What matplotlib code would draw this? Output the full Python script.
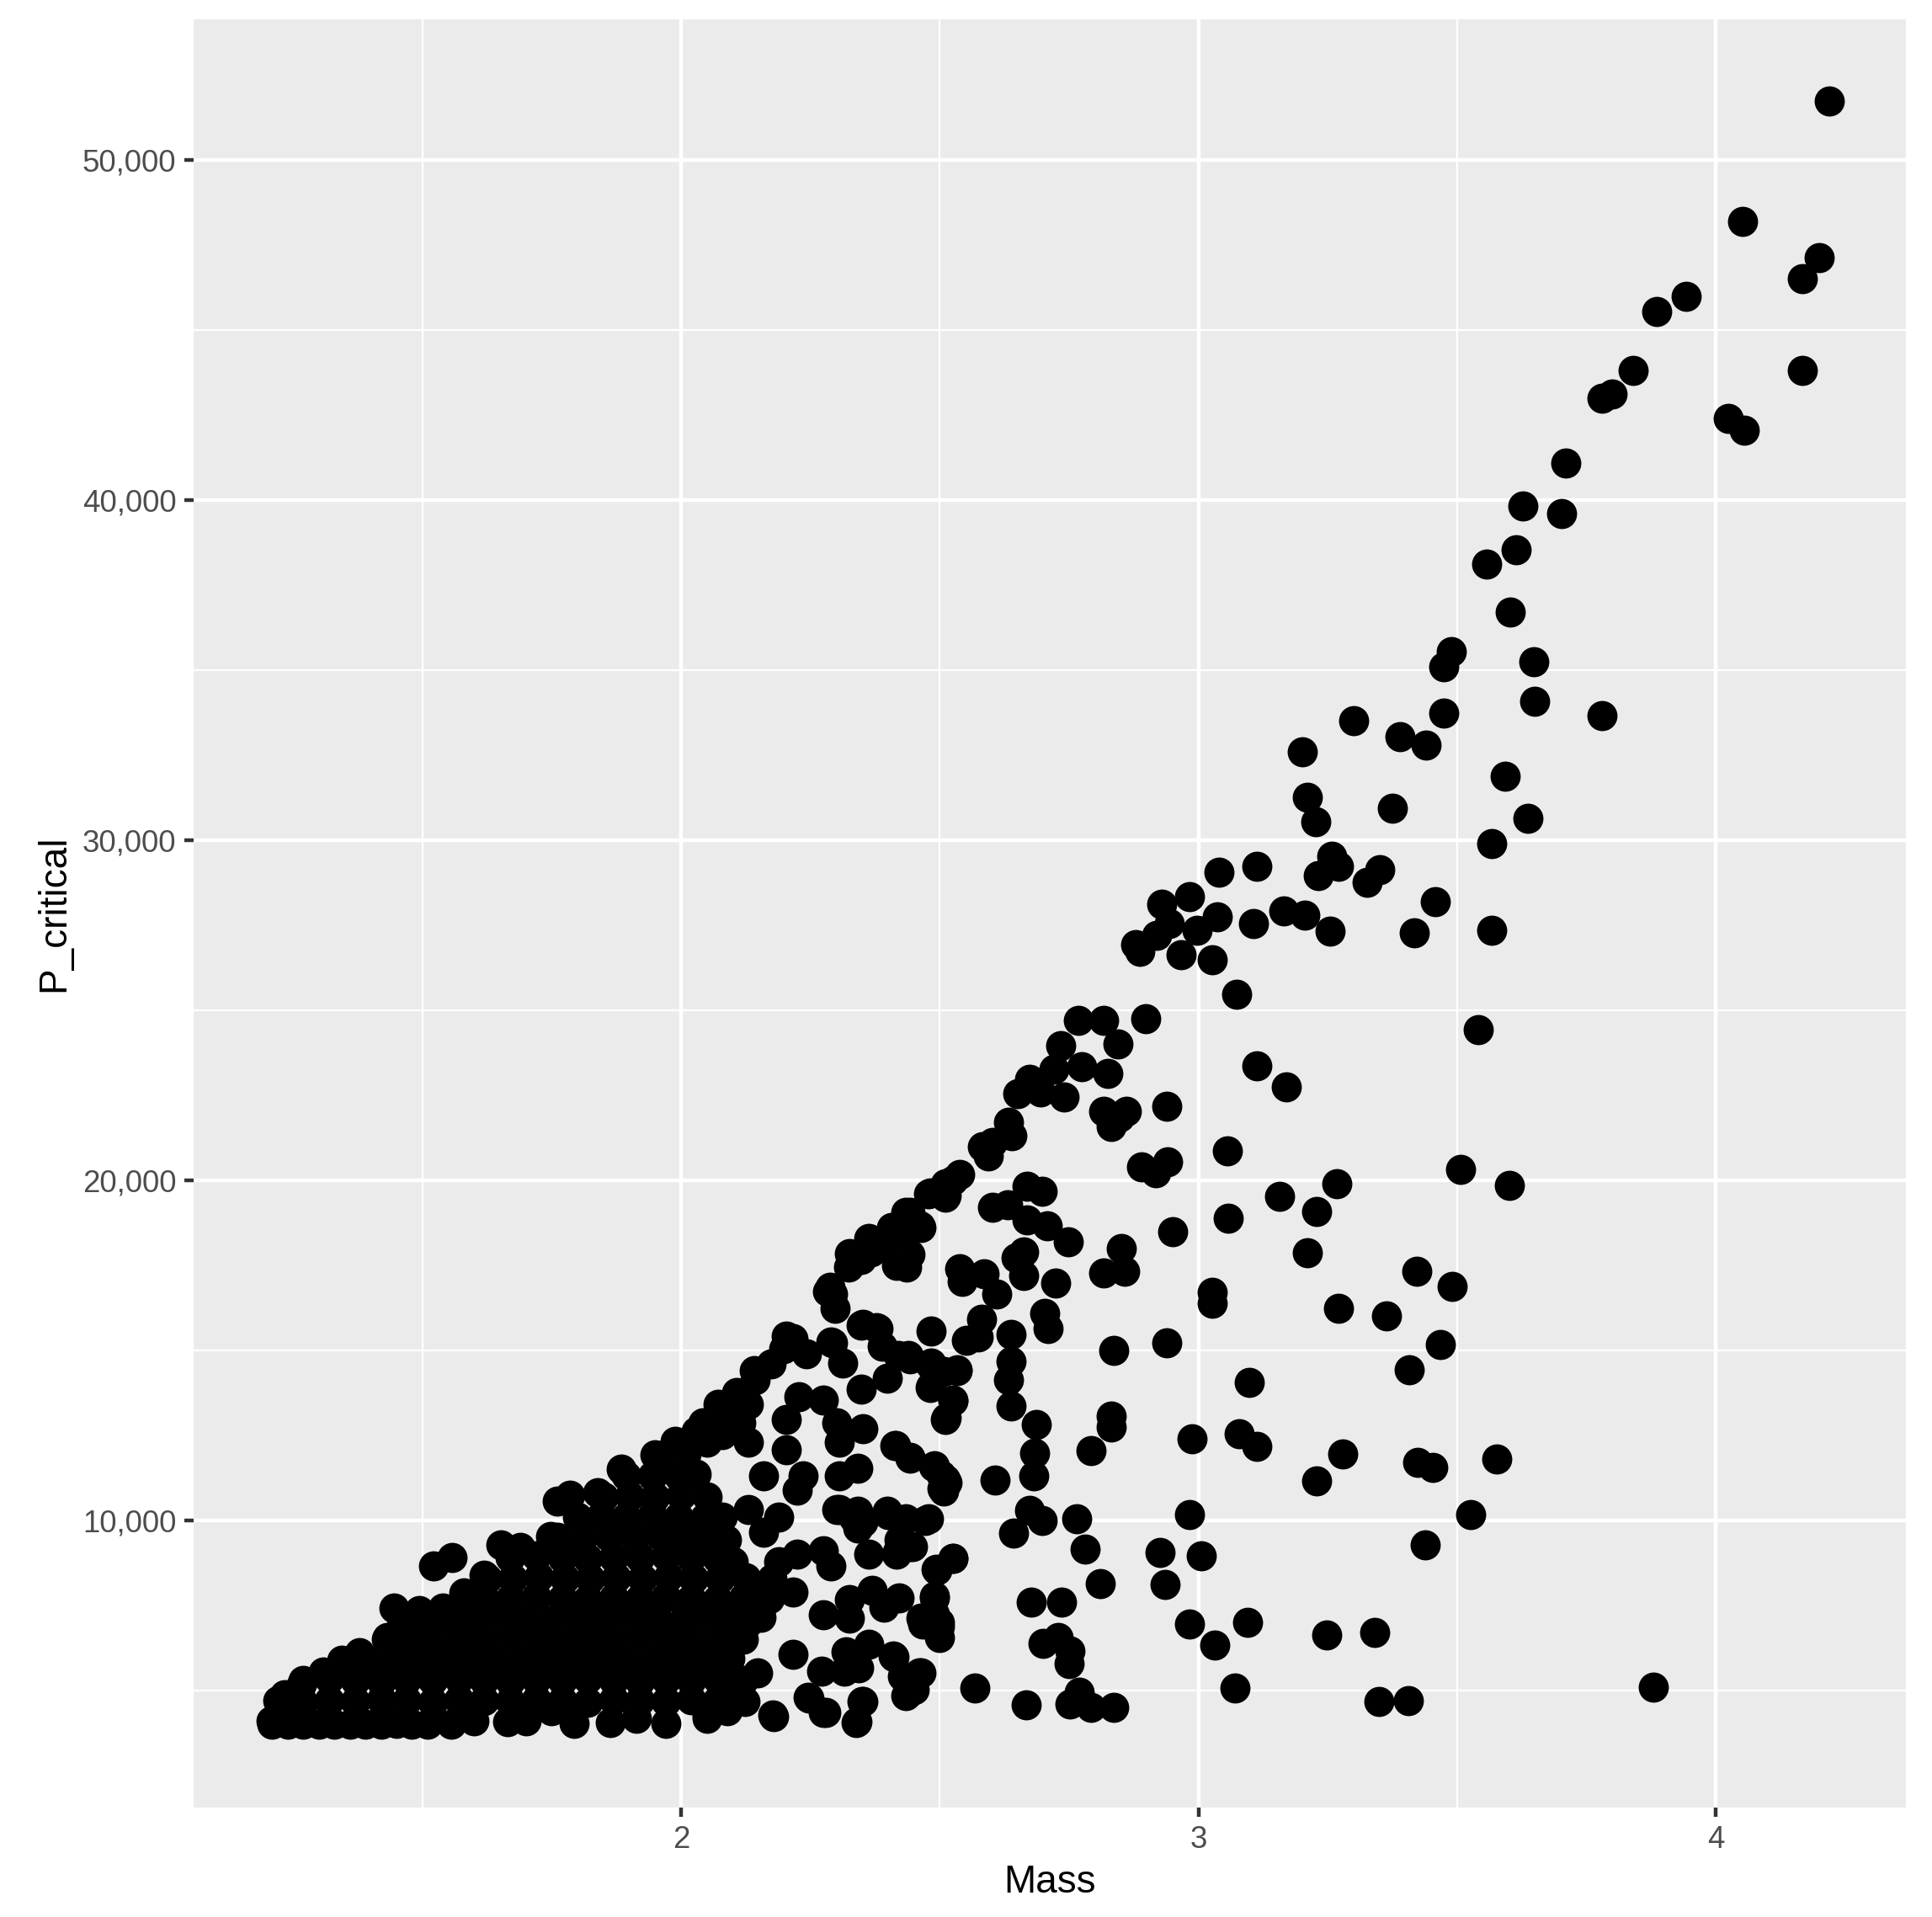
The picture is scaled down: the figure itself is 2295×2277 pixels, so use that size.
import matplotlib
matplotlib.use("Agg")
import matplotlib.pyplot as plt
from matplotlib.ticker import FuncFormatter

# (Mass, P_critical)
upper_points = [
(4.219,51737),(4.052,48190),(4.2,47140),(4.167,46520),(3.943,45980),(3.886,45540),(4.167,43800),(3.84,43800),
(3.8,43110),(3.78,43000),(4.024,42390),(4.055,42060),(3.71,41090),(3.626,39820),(3.702,39600),(3.614,38550),
(3.557,38110),(3.602,36700),(3.488,35540),(3.474,35110),(3.648,35250),(3.65,34090),(3.474,33730),(3.779,33660),
(3.3,33510),(3.39,33040),(3.44,32790),(3.2,32600),(3.593,31880),(3.21,31270),(3.374,30940),(3.226,30540),
(3.636,30650),(3.567,29890),(3.257,29530),(3.271,29240),(3.112,29240),(3.04,29060),(3.231,28950),(3.35,29130),
(3.326,28770),(2.983,28330),(2.929,28110),(3.457,28190),(3.164,27930),(3.205,27790),(3.036,27750),(3.107,27540),
(3.567,27350),(3.255,27320),(3.417,27280),(2.998,27350),(2.919,27210),(2.943,27540),(2.879,26920),(2.886,26740),
(2.967,26630),(3.026,26480),(3.074,25470),(2.767,24710),(2.817,24710),(2.898,24750),(2.845,24020),(2.733,23950),
(3.54,24420),(2.721,23260),(2.774,23330),(2.824,23150),(2.674,22970),(3.112,23370),(3.169,22750),(2.695,22610),
(2.65,22540),(2.74,22460),(2.938,22170),(2.817,22030),(2.86,22030),(2.848,21850),(2.831,21590),(2.633,21700),
(2.64,21300),(2.583,20980),(2.602,21120),(2.593,20720),(3.055,20870),(2.94,20540),(2.89,20400),(2.917,20220),
(3.507,20330),(2.538,20180),(2.526,20000),(2.51,19890),(2.481,19640),(2.512,19560),(3.6,19850),(3.267,19890),
(2.669,19820),(2.698,19670),(3.157,19530),(3.229,19090),(2.602,19200),(2.631,19280),(2.669,18840),(2.707,18660),
(3.057,18880),(2.443,19060),(2.462,18660),(2.424,18480),(2.405,18370),(2.95,18480),(2.748,18190),(2.85,18000),
(2.662,17900),(2.648,17720),(2.388,18120),(2.367,17900),(2.348,17680),(2.324,17460),(2.443,17830),(2.436,17460),
(3.21,17860),(3.421,17320),(2.817,17280),(2.857,17320),(2.662,17210),(2.538,17390),(2.586,17250),(2.543,17030),
(2.724,16990),(3.49,16880),(2.288,16850),(2.293,16670),(2.61,16670),(3.026,16700),(3.026,16380),(2.298,16230),
]
middle_points = [
(3.271,16230),(3.364,16010),(2.702,16090),(2.581,15910),(2.71,15650),(2.352,15760),(2.381,15650),(2.483,15580),
(2.638,15470),(2.574,15400),(2.552,15290),(2.938,15220),(3.467,15180),(2.836,15000),(2.293,15220),(2.207,15330),
(2.638,14670),(2.633,14130),(2.638,13370),(3.407,14420),(3.098,14060),(2.419,14850),(2.443,14750),(2.483,14640),
(2.533,14420),(2.507,14380),(2.483,13950),(2.526,13510),(2.512,13010),(2.686,12830),(2.683,11990),(2.681,11300),
(2.988,12390),(3.079,12540),(3.112,12170),(2.831,13080),(2.831,12750),(2.793,12060),(3.279,11960),(3.424,11700),
(3.452,11560),(3.576,11810),(2.607,11200),(3.229,11160),(3.526,10180),(2.983,10180),(2.414,12210),(2.443,11850),
(2.488,11590),(2.502,11340),(2.514,11120),(2.507,10870),(2.674,10290),(2.698,10000),(2.764,10040),(2.643,9640),
(2.781,9170),(3.438,9280),(2.926,9060),(3.005,8950),(2.526,8880),(2.495,8550),(2.81,8150),(2.936,8120),
(2.471,10000),(2.4,10180),(2.352,9960),(2.419,9130),(2.448,9240),(2.305,10330),(2.333,10070),(2.676,7610),
(2.736,7610),(2.983,6960),(3.095,7000),(2.49,7720),(2.49,7250),(2.5,6880),(2.467,6960),(3.248,6630),
(3.34,6700),(3.031,6340),(2.7,6380),(2.729,6560),(2.752,6160),(2.75,5800),(2.769,4960),(2.567,5070),
(3.071,5070),(3.879,5110),(2.443,5150),(2.464,5510),(2.412,5980),(2.352,4670),(2.34,4090),(2.279,4350),
(2.248,4780),(2.179,4240),(2.667,4570),(2.752,4600),(2.793,4500),(2.836,4500),(3.348,4670),(3.405,4710),
(2.44,4930),
]
spread_points = [
(2.243,14910),(2.203,15410),(2.217,15350),(2.29,15240),(2.348,15740),(2.377,15680),(2.388,15130),(2.312,14640),
(2.439,14860),(2.482,14580),(2.533,14410),(2.482,13920),(2.526,13530),(2.511,12980),(2.399,14190),(2.348,13860),
(2.275,13530),(2.228,13640),(2.141,14410),(2.108,13750),(2.13,13420),(2.072,13420),(2.043,12870),(2.203,12980),
(2.301,12870),(2.352,12700),(2.305,12310),(2.203,12090),(2.341,11540),(2.305,11320),(2.236,11320),(2.159,11320),
(2.13,12310),(2.079,12530),(2.116,12870),(2.413,12200),(2.442,11820),(2.49,11600),(2.511,11210),(2.504,10930),
(2.301,10330),(2.341,10270),(2.399,10270),(2.435,10050),(2.479,10050),(2.341,9770),(2.421,9440),(2.442,9220),
(2.417,9000),(2.363,9000),(2.526,8890),(2.493,8560),(2.49,7780),(2.421,7730),(2.37,7950),(2.464,7120),
(2.5,7010),(2.5,6570),(2.392,7450),(2.326,7670),(2.275,9110),(2.29,8670),(2.188,8780),(2.225,9000),
(2.159,9660),(2.225,10880),(2.079,10100),(2.13,10330),(2.188,10100),(2.087,9440),(2.101,8780),(2.167,7890),
(2.217,7890),(2.275,7230),(2.326,7120),(2.319,6130),(2.363,6350),(2.41,6020),(2.217,6070),(2.272,5570),
(2.315,5570),(2.344,5680),(2.461,5520),(2.428,5410),(2.435,4860),(2.45,5020),(2.246,4800),(2.275,4360),
(2.35,4690),(2.338,4050),(2.177,4270),(2.148,5520),(2.123,4690),(2.05,4250),(2.13,7010),
(2.283,16740),(2.326,17840),(2.363,18280),(2.406,18610),(2.435,19060),(2.464,18610),(2.417,17510),(2.479,19610),
(2.511,19500),(2.074,13040),(2.09,13300),(2.114,13660),(2.143,14130),(2.174,14600),(2.198,15040),
]
edge_points = [
(1.233,4877),(1.266,5165),(1.308,5540),(1.378,6110),(1.432,6570),(1.446,7416),(1.494,7350),(1.54,7430),
(1.558,8910),(1.522,8670),(1.581,7880),(1.619,8380),(1.652,9280),(1.689,9200),(1.747,9530),(1.785,10730),
(1.76,10570),(1.839,10820),(1.884,11510),(1.95,11920),(1.988,12330),(2.03,12620),
]
core_bottom = [
(1.208,4100),(1.21,4000),(1.24,4000),(1.27,4000),(1.30,4000),(1.33,4000),(1.36,4000),(1.39,4000),(1.42,4020),
(1.45,4030),(1.48,4020),(1.51,4020),(1.556,4010),(1.60,4100),(1.664,4090),(1.70,4120),(1.75,4400),(1.793,4030),
(1.864,4060),(1.913,4180),(1.971,4040),(2.05,4190),(2.09,4400),
]
core_row_4700 = [(1.22,4700),(1.27,4650),(1.32,4700),(1.37,4680),(1.42,4720),(1.47,4700),(1.52,4650),(1.57,4720),(1.62,4700),(1.67,4680),(1.72,4720),(1.77,4700),(1.82,4660),(1.87,4720),(1.92,4700),(1.97,4680),(2.02,4720),(2.07,4700),(2.10,4900)]
core_row_5300 = [(1.27,5300),(1.32,5350),(1.37,5300),(1.42,5280),(1.47,5320),(1.52,5300),(1.57,5350),(1.62,5300),(1.67,5280),(1.72,5320),(1.77,5300),(1.82,5350),(1.87,5300),(1.92,5280),(1.97,5320),(2.02,5300),(2.07,5350),(2.12,5300)]
core_row_5900 = [(1.345,5900),(1.395,5900),(1.445,5880),(1.495,5920),(1.545,5900),(1.595,5950),(1.645,5900),(1.695,5880),(1.745,5920),(1.795,5900),(1.845,5950),(1.895,5900),(1.945,5880),(1.995,5920),(2.045,5900),(2.095,5950)]
core_row_6500 = [(1.43,6500),(1.47,6500),(1.52,6480),(1.57,6520),(1.62,6500),(1.67,6550),(1.72,6500),(1.77,6480),(1.82,6520),(1.87,6500),(1.92,6550),(1.97,6500),(2.02,6480),(2.07,6520),(2.12,6500)]
core_row_7100 = [(1.46,7100),(1.505,7080),(1.555,7120),(1.605,7100),(1.655,7150),(1.705,7100),(1.755,7080),(1.805,7120),(1.855,7100),(1.905,7150),(1.955,7100),(2.005,7080),(2.055,7120),(2.105,7100),(2.155,7150)]
core_row_7700 = [(1.58,7700),(1.62,7720),(1.67,7700),(1.72,7750),(1.77,7700),(1.82,7680),(1.87,7720),(1.92,7700),(1.97,7750),(2.02,7700),(2.07,7680),(2.12,7720),(2.17,7700)]
core_row_8300 = [(1.625,8300),(1.675,8300),(1.725,8350),(1.775,8300),(1.825,8280),(1.875,8320),(1.925,8300),(1.975,8350),(2.025,8300),(2.075,8280),(2.125,8320),(2.175,8300)]
core_row_8900 = [(1.67,8900),(1.72,8950),(1.77,8900),(1.82,8880),(1.87,8920),(1.92,8900),(1.97,8950),(2.02,8900),(2.07,8880)]
core_row_9500 = [(1.76,9500),(1.81,9480),(1.86,9520),(1.91,9500),(1.96,9550),(2.01,9500),(2.05,9480)]
core_row_10100 = [(1.80,10100),(1.845,10120),(1.895,10100),(1.945,10150),(1.995,10100),(2.045,10080)]
core_row_10700 = [(1.85,10700),(1.90,10720),(1.95,10700),(2.00,10750),(2.05,10700)]
core_row_11300 = [(1.895,11300),(1.945,11320),(1.995,11300),(2.03,11350)]
core_row_11900 = [(1.96,11900),(2.01,11950),(2.05,12300)]

groups = [upper_points, middle_points, spread_points, edge_points, core_bottom, core_row_4700, core_row_5300,
          core_row_5900, core_row_6500, core_row_7100, core_row_7700, core_row_8300, core_row_8900, core_row_9500,
          core_row_10100, core_row_10700, core_row_11300, core_row_11900]
mass = [p[0] for g in groups for p in g]
p_critical = [p[1] for g in groups for p in g]

x_major = [2, 3, 4]
x_minor = [1.5, 2.5, 3.5]
y_major = [10000, 20000, 30000, 40000, 50000]
y_minor = [5000, 15000, 25000, 35000, 45000]

plt.rcParams['font.family'] = ['Liberation Sans', 'DejaVu Sans']
W, H = 2295, 2277
fig = plt.figure(figsize=(W/300, H/300), dpi=300, facecolor='white')
ax = fig.add_axes([230/W, 1-2147/H, (2264-230)/W, (2147-23)/H], facecolor='#EBEBEB')
ax.scatter(mass, p_critical, s=74, c='black', linewidths=0, zorder=3, clip_on=True)
ax.set_xlim(1.058, 4.367)
ax.set_ylim(1559, 54134)
for s in ax.spines.values():
    s.set_visible(False)
ax.set_xticks(x_major)
ax.set_xticks(x_minor, minor=True)
ax.set_yticks(y_major)
ax.set_yticks(y_minor, minor=True)
ax.yaxis.set_major_formatter(FuncFormatter(lambda v, _: f"{int(v):,}"))
ax.grid(which='major', color='white', lw=1.07, zorder=1)
ax.grid(which='minor', color='white', lw=0.53, zorder=1)
ax.set_axisbelow(True)
ax.tick_params(which='major', length=2.75, width=1.07, color='#333333', labelcolor='#4D4D4D', labelsize=8.8, pad=2.2)
ax.tick_params(which='minor', length=0)
ax.set_xlabel('Mass', fontsize=11, color='black', labelpad=2.75)
ax.set_ylabel('P_critical', fontsize=11, color='black', labelpad=2.75)
fig.savefig('out.png', dpi=300)
